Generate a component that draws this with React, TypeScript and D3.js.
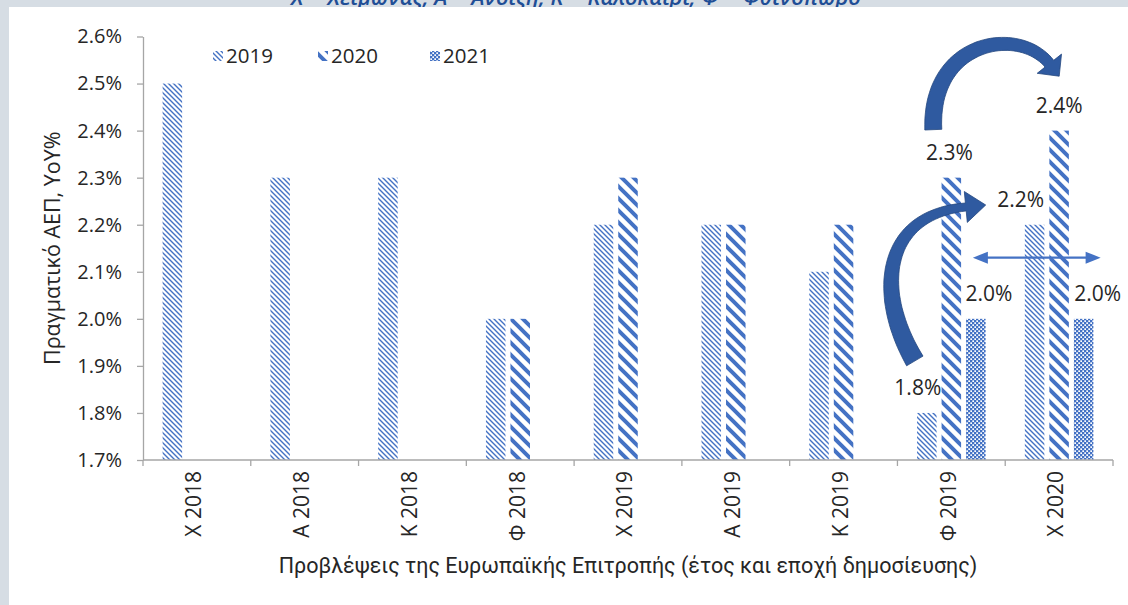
import React, { useEffect, useRef } from 'react';
import * as d3 from 'd3';

const categories = ['Χ 2018', 'Α 2018', 'Κ 2018', 'Φ 2018', 'Χ 2019', 'Α 2019', 'Κ 2019', 'Φ 2019', 'Χ 2020'];
const seriesNames = ['2019', '2020', '2021'];
const values2019: (number | null)[] = [2.5, 2.3, 2.3, 2.0, 2.2, 2.2, 2.1, 1.8, 2.2];
const values2020: (number | null)[] = [null, null, null, 2.0, 2.3, 2.2, 2.2, 2.3, 2.4];
const values2021: (number | null)[] = [null, null, null, null, null, null, null, 2.0, 2.0];
const yTicks = [1.7, 1.8, 1.9, 2.0, 2.1, 2.2, 2.3, 2.4, 2.5, 2.6];

const headerText = 'Χ = Χειμώνας, Α = Άνοιξη, Κ = Καλοκαίρι, Φ = Φθινόπωρο';
const yTitle = 'Πραγματικό ΑΕΠ, YoY%';
const xTitle = 'Προβλέψεις της Ευρωπαϊκής Επιτροπής (έτος και εποχή δημοσίευσης)';

// which bars carry a value label (dx = horizontal nudge)
const labelledBars = [
  { cat: 'Φ 2019', series: '2019', dx: -9 },
  { cat: 'Φ 2019', series: '2020', dx: -2 },
  { cat: 'Φ 2019', series: '2021', dx: 13 },
  { cat: 'Χ 2020', series: '2019', dx: -14 },
  { cat: 'Χ 2020', series: '2020', dx: 0 },
  { cat: 'Χ 2020', series: '2021', dx: 14 },
];

const BLUE = '#4472C4';
const ARROW = '#2f5aa0';
const TEXT = '#262626';
const AXIS = '#a6a6a6';
const FONT = "'Open Sans', 'DejaVu Sans', sans-serif";

const W = 1128;
const H = 605;

type Pt = [number, number];

// thick tapered bezier arrow as a filled outline
function curvedArrow(p: Pt[], w0: number, w1: number, headW: number, headL: number) {
  const n = 48;
  const left: Pt[] = [];
  const right: Pt[] = [];
  const bez = (t: number): Pt => {
    const u = 1 - t;
    return [
      u * u * u * p[0][0] + 3 * u * u * t * p[1][0] + 3 * u * t * t * p[2][0] + t * t * t * p[3][0],
      u * u * u * p[0][1] + 3 * u * u * t * p[1][1] + 3 * u * t * t * p[2][1] + t * t * t * p[3][1],
    ];
  };
  const der = (t: number): Pt => {
    const u = 1 - t;
    return [
      3 * u * u * (p[1][0] - p[0][0]) + 6 * u * t * (p[2][0] - p[1][0]) + 3 * t * t * (p[3][0] - p[2][0]),
      3 * u * u * (p[1][1] - p[0][1]) + 6 * u * t * (p[2][1] - p[1][1]) + 3 * t * t * (p[3][1] - p[2][1]),
    ];
  };
  let endN: Pt = [0, 0];
  let endT: Pt = [1, 0];
  for (let i = 0; i <= n; i++) {
    const t = i / n;
    const b = bez(t);
    const d = der(t);
    const len = Math.hypot(d[0], d[1]) || 1;
    const tx = d[0] / len, ty = d[1] / len;
    const nx = -ty, ny = tx;
    const w = (w0 + (w1 - w0) * t) / 2;
    left.push([b[0] + nx * w, b[1] + ny * w]);
    right.push([b[0] - nx * w, b[1] - ny * w]);
    if (i === n) { endN = [nx, ny]; endT = [tx, ty]; }
  }
  const e = bez(1);
  const hl: Pt = [e[0] + endN[0] * headW / 2, e[1] + endN[1] * headW / 2];
  const hr: Pt = [e[0] - endN[0] * headW / 2, e[1] - endN[1] * headW / 2];
  const tip: Pt = [e[0] + endT[0] * headL, e[1] + endT[1] * headL];
  const pts = [...left, hl, tip, hr, ...right.reverse()];
  return 'M' + pts.map(q => q[0].toFixed(1) + ',' + q[1].toFixed(1)).join('L') + 'Z';
}

export default function App() {
  const ref = useRef<SVGSVGElement | null>(null);

  useEffect(() => {
    if (!ref.current) return;
    const svg = d3.select(ref.current);
    svg.selectAll('*').remove();

    const margin = { top: 36.5, right: 15, bottom: 145, left: 143 };
    const seriesValues: Record<string, (number | null)[]> = {
      '2019': values2019, '2020': values2020, '2021': values2021,
    };

    const x0 = d3.scaleBand().domain(categories).range([margin.left, W - margin.right]);
    const x1 = d3.scaleBand().domain(seriesNames).range([0, x0.bandwidth()]).paddingInner(0.204).paddingOuter(0.8);
    const y = d3.scaleLinear().domain([1.7, 2.6]).range([H - margin.bottom, margin.top]);
    const bx = (cat: string, s: string) => (x0(cat) ?? 0) + (x1(s) ?? 0) + x1.bandwidth() / 2;

    // patterns
    const defs = svg.append('defs');
    const p19 = defs.append('pattern').attr('id', 'pat2019').attr('patternUnits', 'userSpaceOnUse')
      .attr('width', 5).attr('height', 5);
    p19.append('path').attr('d', 'M-1,-1L6,6M-1,4L1,6M4,-1L6,1')
      .attr('stroke', BLUE).attr('stroke-width', 1.4);
    const p20 = defs.append('pattern').attr('id', 'pat2020').attr('patternUnits', 'userSpaceOnUse')
      .attr('width', 12).attr('height', 12);
    p20.append('path').attr('d', 'M-3,-3L15,15M-3,9L3,15M9,-3L15,3')
      .attr('stroke', BLUE).attr('stroke-width', 4);
    const p21 = defs.append('pattern').attr('id', 'pat2021').attr('patternUnits', 'userSpaceOnUse')
      .attr('width', 4).attr('height', 4);
    p21.append('rect').attr('width', 4).attr('height', 4).attr('fill', BLUE);
    p21.append('rect').attr('x', 0.3).attr('y', 0.3).attr('width', 1.7).attr('height', 1.7).attr('fill', '#fff');
    p21.append('rect').attr('x', 2.3).attr('y', 2.3).attr('width', 1.7).attr('height', 1.7).attr('fill', '#fff');
    const fillFor: Record<string, string> = { '2019': 'url(#pat2019)', '2020': 'url(#pat2020)', '2021': 'url(#pat2021)' };

    // page frame
    svg.append('rect').attr('width', W).attr('height', H).attr('fill', '#d6dde4');
    svg.append('text').attr('x', 576).attr('y', 5).attr('text-anchor', 'middle')
      .attr('font-family', FONT).attr('font-size', 22).attr('font-style', 'italic').attr('font-weight', 600)
      .attr('fill', '#1f4e96').text(headerText);
    svg.append('rect').attr('x', 9).attr('y', 7).attr('width', W - 9).attr('height', H - 7).attr('fill', '#fff');

    // bars
    seriesNames.forEach(s => {
      const rows = categories.map((c, i) => ({ c, v: seriesValues[s][i] })).filter(d => d.v != null) as { c: string; v: number }[];
      svg.append('g').selectAll('rect').data(rows).join('rect')
        .attr('x', d => (x0(d.c) ?? 0) + (x1(s) ?? 0))
        .attr('y', d => y(d.v))
        .attr('width', x1.bandwidth())
        .attr('height', d => y(1.7) - y(d.v))
        .attr('fill', fillFor[s]);
    });

    // y axis
    svg.append('g')
      .attr('transform', `translate(${margin.left},0)`)
      .call(d3.axisLeft(y).tickValues(yTicks).tickFormat(d => (d as number).toFixed(1) + '%').tickSize(6).tickPadding(15).tickSizeOuter(0))
      .call(g => g.selectAll('.domain,.tick line').attr('stroke', AXIS).attr('stroke-width', 1.3))
      .call(g => g.selectAll('.tick text').attr('fill', TEXT).attr('font-size', 20).attr('font-family', FONT));

    // x axis: baseline + boundary ticks
    const base = y(1.7);
    const xa = svg.append('g');
    xa.append('line').attr('x1', margin.left).attr('x2', W - margin.right).attr('y1', base).attr('y2', base)
      .attr('stroke', AXIS).attr('stroke-width', 1.3);
    xa.selectAll('line.tk').data(d3.range(categories.length + 1)).join('line').attr('class', 'tk')
      .attr('x1', i => margin.left + i * x0.step()).attr('x2', i => margin.left + i * x0.step())
      .attr('y1', base).attr('y2', base + 6).attr('stroke', AXIS).attr('stroke-width', 1.3);
    xa.selectAll('text').data(categories).join('text')
      .attr('transform', c => `translate(${(x0(c) ?? 0) + x0.bandwidth() / 2 - 3},${base + 11}) rotate(-90)`)
      .attr('text-anchor', 'end').attr('dy', '0.35em')
      .attr('fill', TEXT).attr('font-size', 21).attr('font-family', FONT)
      .text(c => c);

    // axis titles
    svg.append('text').attr('transform', `translate(52,${(y(2.6) + y(1.7)) / 2}) rotate(-90)`)
      .attr('text-anchor', 'middle').attr('dy', '0.35em')
      .attr('fill', TEXT).attr('font-size', 21.5).attr('font-family', FONT).text(yTitle);
    svg.append('text').attr('x', 628).attr('y', 573).attr('text-anchor', 'middle')
      .attr('fill', TEXT).attr('font-size', 21.5).attr('font-family', "Roboto, sans-serif").text(xTitle);

    // legend
    const legendX = [213, 318, 430];
    const lg = svg.append('g');
    seriesNames.forEach((s, i) => {
      lg.append('rect').attr('x', legendX[i]).attr('y', 51).attr('width', 10).attr('height', 10).attr('fill', fillFor[s]);
      lg.append('text').attr('x', legendX[i] + 13).attr('y', 63)
        .attr('fill', TEXT).attr('font-size', 20.5).attr('font-family', FONT).text(s);
    });

    // value labels
    svg.append('g').selectAll('text').data(labelledBars).join('text')
      .attr('x', d => bx(d.cat, d.series) + d.dx)
      .attr('y', d => y(seriesValues[d.series][categories.indexOf(d.cat)] as number) - 18)
      .attr('text-anchor', 'middle')
      .attr('fill', TEXT).attr('font-size', 21).attr('font-family', FONT)
      .text(d => (seriesValues[d.series][categories.indexOf(d.cat)] as number).toFixed(1) + '%');

    // annotation arrows
    const a1x = bx('Φ 2019', '2020'), a1y = y(2.3);
    svg.append('path')
      .attr('d', curvedArrow([[a1x - 18, a1y - 48], [a1x - 22, a1y - 138], [a1x + 68, a1y - 152], [a1x + 98, a1y - 114]], 17, 11, 31, 16))
      .attr('fill', ARROW).attr('stroke', '#24477f').attr('stroke-width', 0.8);
    const a2x = bx('Φ 2019', '2019'), a2y = y(1.8);
    svg.append('path')
      .attr('d', curvedArrow([[a2x - 12, a2y - 52], [a2x - 52, a2y - 120], [a2x - 45, a2y - 198], [a2x + 39, a2y - 206]], 19, 8, 31, 20))
      .attr('fill', ARROW).attr('stroke', '#24477f').attr('stroke-width', 0.8);

    // double-headed horizontal arrow
    const hy = y(2.13);
    const hx0 = bx('Φ 2019', '2021') - 3;
    const hx1 = bx('Χ 2020', '2021') + 17;
    const ha = svg.append('g').attr('fill', BLUE);
    ha.append('line').attr('x1', hx0 + 10).attr('x2', hx1 - 10).attr('y1', hy).attr('y2', hy)
      .attr('stroke', BLUE).attr('stroke-width', 2.2);
    ha.append('path').attr('d', `M${hx0},${hy}L${hx0 + 15},${hy - 6}L${hx0 + 15},${hy + 6}Z`);
    ha.append('path').attr('d', `M${hx1},${hy}L${hx1 - 15},${hy - 6}L${hx1 - 15},${hy + 6}Z`);
  }, []);

  return (
    <>
      <style>{'body{margin:0}'}</style>
      <svg ref={ref} width={W} height={H} style={{ display: 'block' }} />
    </>
  );
}
